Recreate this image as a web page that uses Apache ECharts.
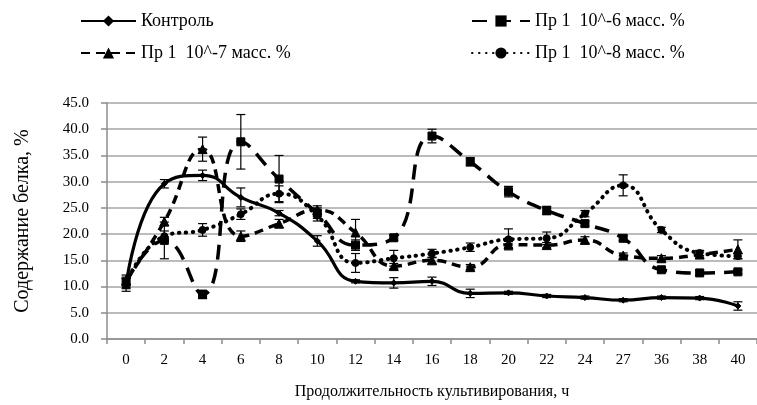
<!DOCTYPE html>
<html>
<head>
<meta charset="utf-8">
<script src="https://cdn.jsdelivr.net/npm/echarts@6/dist/echarts.min.js"></script>
<style>
html,body{margin:0;padding:0;background:#fff;}
#chart{width:757px;height:405px;}
</style>
</head>
<body>
<div id="chart"></div>
<script>
var categories = ['0','2','4','6','8','10','12','14','16','18','20','22','24','27','36','38','40'];
var yTicks = [0, 5, 10, 15, 20, 25, 30, 35, 40, 45];

var names = ['Контроль', 'Пр 1  10^-6 масс. %', 'Пр 1  10^-7 масс. %', 'Пр 1  10^-8 масс. %'];

var control = [10.3, 29.6, 31.2, 27.0, 24.0, 18.7, 11.0, 10.7, 11.0, 8.7, 8.8, 8.2, 7.9, 7.4, 7.9, 7.8, 6.3];
var pr6     = [10.8, 18.8, 8.5, 37.6, 30.5, 24.0, 17.9, 19.3, 38.7, 33.8, 28.1, 24.5, 22.0, 19.2, 13.2, 12.6, 12.8];
var pr7     = [11.2, 22.4, 36.2, 19.6, 22.0, 24.6, 20.3, 13.9, 15.0, 13.7, 18.0, 17.9, 18.9, 15.9, 15.4, 16.1, 17.1];
var pr8     = [10.6, 19.6, 20.8, 23.8, 27.7, 23.5, 14.5, 15.4, 16.3, 17.5, 19.0, 19.2, 23.9, 29.3, 20.8, 16.4, 15.8];

var errC = [1.2, 0.8, 1.0, 1.8, 0.5, 1.0, 0.3, 1.0, 0.8, 0.8, 0.3, 0.3, 0.3, 0.3, 0.3, 0.3, 0.8];
var err6 = [1.0, 3.5, 0.8, 5.2, 4.5, 1.0, 1.0, 0.5, 1.3, 0.8, 1.0, 0.8, 0.5, 0.5, 0.5, 0.5, 0.4];
var err7 = [1.0, 0.8, 2.3, 1.0, 0.8, 0.8, 2.5, 0.5, 0.6, 0.5, 0.6, 0.5, 0.6, 0.5, 0.5, 0.5, 1.8];
var err8 = [1.0, 1.0, 1.2, 1.0, 1.5, 1.0, 1.8, 1.5, 0.8, 0.8, 2.0, 1.2, 0.6, 2.0, 0.5, 0.5, 0.5];

var FONT = 'Liberation Serif';

function errData(vals, errs) {
  return vals.map(function (v, i) { return [i, v - errs[i], v + errs[i]]; });
}
function errSeries(vals, errs) {
  return {
    type: 'custom',
    silent: true,
    z: 1,
    renderItem: function (params, api) {
      var lo = api.coord([api.value(0), api.value(1)]);
      var hi = api.coord([api.value(0), api.value(2)]);
      var hw = 4.5;
      var st = { stroke: '#000', lineWidth: 1.2 };
      return {
        type: 'group',
        children: [
          { type: 'line', shape: { x1: lo[0], y1: lo[1], x2: hi[0], y2: hi[1] }, style: st },
          { type: 'line', shape: { x1: lo[0] - hw, y1: lo[1], x2: lo[0] + hw, y2: lo[1] }, style: st },
          { type: 'line', shape: { x1: hi[0] - hw, y1: hi[1], x2: hi[0] + hw, y2: hi[1] }, style: st }
        ]
      };
    },
    encode: { x: 0, y: [1, 2] },
    data: errData(vals, errs)
  };
}

function lineSeries(name, data, symbol, size, dash, cap, width) {
  return {
    name: name,
    type: 'line',
    data: data,
    smooth: 0.5,
    symbol: symbol,
    symbolSize: size,
    z: 3,
    itemStyle: { color: '#000', borderColor: '#000' },
    lineStyle: { color: '#000', width: width, type: dash, cap: cap },
    emphasis: { disabled: true }
  };
}

var legendText = { fontFamily: FONT, fontSize: 18, color: '#000' };

var chart = echarts.init(document.getElementById('chart'), null, { renderer: 'canvas' });
chart.setOption({
  animation: false,
  backgroundColor: '#fff',
  textStyle: { fontFamily: FONT, color: '#000' },
  legend: [
    {
      left: 80, top: 12, padding: 0, orient: 'vertical', itemGap: 14, itemWidth: 55, itemHeight: 14,
      data: [names[0], names[2]],
      textStyle: legendText,
      selectedMode: false
    },
    {
      left: 471, top: 12, padding: 0, orient: 'vertical', itemGap: 14, itemWidth: 58, itemHeight: 14,
      data: [names[1], names[3]],
      textStyle: legendText,
      selectedMode: false
    }
  ],
  grid: { left: 107, right: 0, top: 103, bottom: 63, containLabel: false },
  xAxis: {
    type: 'category',
    data: categories,
    boundaryGap: true,
    name: 'Продолжительность культивирования, ч',
    nameLocation: 'middle',
    nameGap: 45,
    nameTextStyle: { fontFamily: FONT, fontSize: 16, color: '#000' },
    axisLine: { lineStyle: { color: '#8c8c8c', width: 1.5 } },
    axisTick: { show: true, alignWithLabel: false, length: 5, lineStyle: { color: '#8c8c8c', width: 1.5 } },
    axisLabel: { fontFamily: FONT, fontSize: 15, color: '#000', margin: 14, interval: 0 },
    splitLine: { show: false }
  },
  yAxis: {
    type: 'value',
    min: 0, max: 45, interval: 5,
    name: 'Содержание белка, %',
    nameLocation: 'middle',
    nameGap: 74,
    nameRotate: 90,
    nameTextStyle: { fontFamily: FONT, fontSize: 20, color: '#000' },
    axisLine: { show: true, lineStyle: { color: '#8c8c8c', width: 1.5 } },
    axisTick: { show: true, length: 6, lineStyle: { color: '#8c8c8c', width: 1.5 } },
    axisLabel: {
      fontFamily: FONT, fontSize: 15, color: '#000', margin: 18,
      formatter: function (v) { return yTicks.indexOf(v) >= 0 ? v.toFixed(1) : ''; }
    },
    splitLine: { show: true, lineStyle: { color: '#a6a6a6', width: 1.5 } }
  },
  series: [
    errSeries(control, errC),
    errSeries(pr6, err6),
    errSeries(pr7, err7),
    errSeries(pr8, err8),
    lineSeries(names[0], control, 'diamond', 6, 'solid', 'butt', 3.2),
    lineSeries(names[1], pr6, 'rect', 8, [15, 9], 'butt', 3.5),
    lineSeries(names[2], pr7, 'triangle', 9, [9, 6], 'butt', 3.5),
    lineSeries(names[3], pr8, 'circle', 7, [0.5, 6.5], 'round', 4)
  ]
});
</script>
</body>
</html>
